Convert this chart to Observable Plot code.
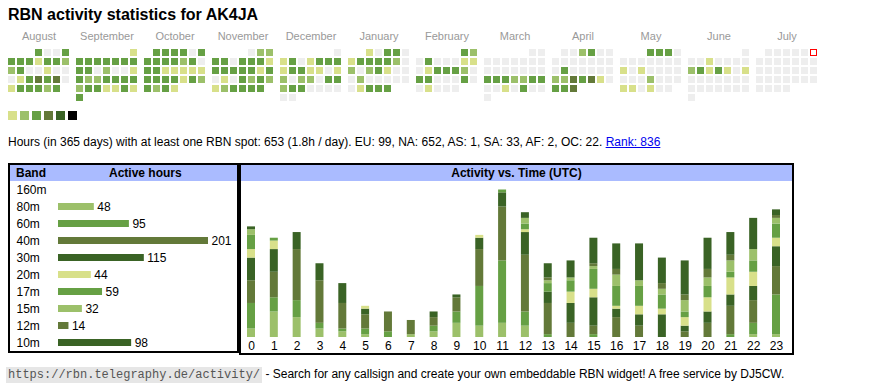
<!DOCTYPE html>
<html><head><meta charset="utf-8">
<script src="https://cdn.jsdelivr.net/npm/d3@7"></script>
<script src="https://cdn.jsdelivr.net/npm/@observablehq/plot@0.6"></script>
<style>
html,body{margin:0;padding:0;background:#fff}
body{width:870px;height:390px;position:relative;overflow:hidden;font-family:"Liberation Sans",Arial,sans-serif;color:#000}
.abs{position:absolute}
#title{left:8px;top:6px;font-size:16px;font-weight:bold;line-height:18px;white-space:nowrap}
#summary{left:8px;top:135px;font-size:12px;line-height:14px;white-space:nowrap}
#summary a{color:#0000ee;text-decoration:underline}
.box{box-sizing:border-box;border:2px solid #000;background:#fff}
.hdr{position:absolute;left:0;top:0;right:0;height:16px;background:#aabbff;font-size:12px;font-weight:bold;line-height:16px}
#footer{left:6px;top:367px;font-size:12px;line-height:14px;white-space:nowrap}
#footer code{font-family:"Liberation Mono","DejaVu Sans Mono",monospace;font-size:12px;color:#555;background:#e6e6e6;padding:1px 2px}
svg{overflow:visible}
</style></head><body>
<div id="title" class="abs">RBN activity statistics for AK4JA</div>
<div id="cal" class="abs" style="left:0;top:20px"></div>
<div id="legend" class="abs" style="left:0;top:111px"></div>
<div id="summary" class="abs">Hours (in 365 days) with at least one RBN spot: 653 (1.8h / day). EU: 99, NA: 652, AS: 1, SA: 33, AF: 2, OC: 22. <a href="#">Rank: 836</a></div>
<div id="box1" class="abs box" style="left:8px;top:163px;width:231px;height:190px">
  <div class="hdr"><span class="abs" style="left:6px">Band</span><span class="abs" style="left:99px">Active hours</span></div>
  <div id="bandplot" class="abs" style="left:0;top:16px"></div>
</div>
<div id="box2" class="abs box" style="left:239px;top:163px;width:555px;height:192px">
  <div class="hdr" style="text-align:center">Activity vs. Time (UTC)</div>
  <div id="hourplot" class="abs" style="left:0;top:16px"></div>
</div>
<div id="footer" class="abs"><code>https://rbn.telegraphy.de/activity/</code> - Search for any callsign and create your own embeddable RBN widget! A free service by DJ5CW.</div>
<script>
// ---- calendar data (level per day: 0 none, 1..5 activity) ----
const months = ["August","September","October","November","December","January","February","March","April","May","June","July"];
const monthYear = [[2024,7],[2024,8],[2024,9],[2024,10],[2024,11],[2025,0],[2025,1],[2025,2],[2025,3],[2025,4],[2025,5],[2025,6]];
const aug = [3,0,0,3, 3,3,3,1,3,3,2, 2,3,0,0,1,0,0, 0,1,3,4,3,4,0, 1,3,3,3,2,3];
const sep = [1, 3,3,3,3,3,3,3, 3,3,0,2,0,0,1, 3,2,2,3,3,3,3, 2,3,3,1,1,3,1, 3];
const oct = [3,3,3,3,0,3, 3,3,3,3,2,3,0, 3,3,1,1,1,1,1, 3,3,3,3,1,3,2, 3,2,3,1];
const nov = [0,2,2, 3,3,0,3,3,3,1, 3,3,3,3,3,1,3, 0,1,0,3,2,3,2, 1,2,3,3,3,3];
const dec = [0, 1,3,0,1,3,3,3, 1,3,3,1,1,0,1, 2,0,2,2,0,3,3, 2,3,3,0,0,0,0, 0,0];
const jan = [1,0,3,3,0, 1,3,3,3,3,2,0, 2,0,2,3,1,0,0, 0,2,0,0,0,0,0, 0,1,3,3,3];
const feb = [3,2, 0,3,0,0,0,1,1, 0,1,3,3,3,2,0, 3,3,0,0,0,3,0, 0,1,0,0,0];
const mar = [0,0, 0,0,0,0,0,0,0, 0,0,0,0,0,0,0, 3,3,3,2,2,3,3, 0,0,1,0,3,0,0, 0];
const apr = [0,0,2,3,0,0, 0,0,0,0,0,0,0, 0,3,0,0,0,0,0, 2,2,4,3,4,1,0, 3,3,4];
const may = [3,3,3,0, 0,0,0,0,0,0,0, 1,0,1,0,0,0,0, 0,0,0,2,0,0,0, 1,1,0,1,0,0];
const jun = [0, 0,0,1,0,0,0,0, 2,3,1,3,1,0,1, 0,0,0,0,0,0,0, 0,0,0,0,0,0,0, 0];
const jul = [0,0,0,0,0,0, 0,0,0,0,0,0,0, 0,0,0,0,0,0,0, 0,0,0,0,0,0,0, 0,0,0,0];
const todayMonth = "July", todayDay = 6;
const legendLevels = [1,2,3,4,5,6];

// ---- bands ----
const bands = ["160m","80m","60m","40m","30m","20m","17m","15m","12m","10m"];
const bandHours = [0,48,95,201,115,44,59,32,14,98];

// ---- activity per UTC hour, per band ----
const hours = d3.range(24);
const h160 = [0,0,0,0,0,0,0,0,0,0,0,0,0,0,0,0,0,0,0,0,0,0,0,0];
const h80  = [3,9,7,3,2,1,0,1,2,5,4,5,4,0,0,0,0,0,0,0,0,0,1,1];
const h60  = [9,5,6,2,1,2,2,0,2,4,14,22,5,1,0,1,0,0,0,0,0,1,4,14];
const h40  = [8,9,18,15,9,5,7,5,3,5,13,19,20,11,5,3,7,4,0,2,5,10,8,10];
const h30  = [8,8,6,6,7,2,0,0,2,1,4,5,8,4,7,10,3,4,8,2,4,4,5,7];
const h20  = [3,3,0,0,0,1,0,0,0,0,1,0,1,0,4,3,1,3,2,3,5,6,5,3];
const h17  = [5,1,0,0,0,0,0,0,0,0,0,1,2,3,4,7,7,7,5,2,4,2,4,5];
const h15  = [2,0,0,0,0,0,0,0,0,0,0,0,2,1,1,1,4,2,2,4,3,4,4,2];
const h12  = [0,0,0,0,0,0,0,0,0,0,0,0,0,1,0,1,2,0,2,2,3,2,0,1];
const h10  = [1,0,0,0,0,0,0,0,0,0,0,0,2,5,6,9,9,13,9,12,11,8,11,2];

// ---- styling ----
const P="#d8e08a", L="#9cc06a", M="#66a044", O="#637939", D="#3a6325";
const levelColors = ["#eeeeee",P,L,M,O,D,"#000000"];
const bandColors = [P,L,M,O,D,P,M,L,O,D];
const font = '"Liberation Sans", Arial, sans-serif';

// ---- build tables ----
const monthDays = [aug,sep,oct,nov,dec,jan,feb,mar,apr,may,jun,jul];
const cells = months.flatMap((m,i) => {
  const [yr,mo] = monthYear[i];
  const first = (new Date(yr,mo,1).getDay()+6)%7;
  return monthDays[i].map((lv,k) => ({month:m, day:k+1, dow:(first+k)%7, week:Math.floor((first+k)/7), level:lv}));
});
const today = cells.filter(d => d.month===todayMonth && d.day===todayDay);

const cal = Plot.plot({
  width:870, height:85, marginLeft:8, marginRight:53, marginTop:29, marginBottom:4,
  fx:{domain:months, paddingInner:7/68, paddingOuter:0, axis:"top", tickSize:0, tickPadding:10, label:null},
  x:{domain:d3.range(7), paddingInner:2/9, paddingOuter:0, axis:null},
  y:{domain:d3.range(6), paddingInner:2/9, paddingOuter:0, axis:null},
  color:{type:"ordinal", domain:d3.range(7), range:levelColors},
  style:{fontFamily:font, fontSize:"11px", color:"#999", background:"transparent"},
  marks:[
    Plot.cell(cells,{fx:"month", x:"dow", y:"week", fill:"level"}),
    Plot.cell(today,{fx:"month", x:"dow", y:"week", fill:"white", stroke:"red", strokeWidth:1, inset:0.5})
  ]
});
document.getElementById("cal").appendChild(cal);

const leg = Plot.plot({
  width:90, height:9, marginLeft:8, marginRight:13, marginTop:0, marginBottom:0,
  x:{domain:legendLevels, paddingInner:0.25, paddingOuter:0, axis:null},
  color:{type:"ordinal", domain:d3.range(7), range:levelColors},
  style:{background:"transparent"},
  marks:[Plot.cell(legendLevels,{x:d=>d, fill:d=>d})]
});
document.getElementById("legend").appendChild(leg);

const bandData = bands.map((b,i)=>({band:b, hours:bandHours[i]}));
const active = bandData.filter(d=>d.hours>0);
const bp = Plot.plot({
  width:227, height:170, marginLeft:48, marginRight:29, marginTop:0, marginBottom:0,
  x:{domain:[0,201], axis:null},
  y:{domain:bands, paddingInner:10/17, paddingOuter:5/17, axis:null},
  color:{domain:bands, range:bandColors},
  style:{fontFamily:font, fontSize:"12px", color:"#000", background:"transparent"},
  marks:[
    Plot.barX(active,{x:"hours", y:"band", fill:"band"}),
    Plot.text(active,{x:"hours", y:"band", text:d=>String(d.hours), dx:3, textAnchor:"start", fill:"#000"}),
    Plot.text(bandData,{y:"band", text:"band", frameAnchor:"left", dx:-42, textAnchor:"start", fill:"#000"})
  ]
});
document.getElementById("bandplot").appendChild(bp);

const perBand = [h160,h80,h60,h40,h30,h20,h17,h15,h12,h10];
const hourData = bands.flatMap((b,i)=>hours.map(h=>({hour:h, band:b, count:perBand[i][h]}))).filter(d=>d.count>0);
const hp = Plot.plot({
  width:551, height:172, marginLeft:0, marginRight:6, marginTop:0, marginBottom:16,
  x:{domain:hours, paddingInner:0.65, paddingOuter:0.263, round:false, tickSize:0, tickPadding:4, label:null},
  y:{domain:[0,55], axis:null},
  color:{domain:bands, range:bandColors},
  style:{fontFamily:font, fontSize:"12px", color:"#000", background:"transparent"},
  marks:[Plot.barY(hourData,{x:"hour", y:"count", fill:"band", order:bands})]
});
document.getElementById("hourplot").appendChild(hp);
</script>
</body></html>
